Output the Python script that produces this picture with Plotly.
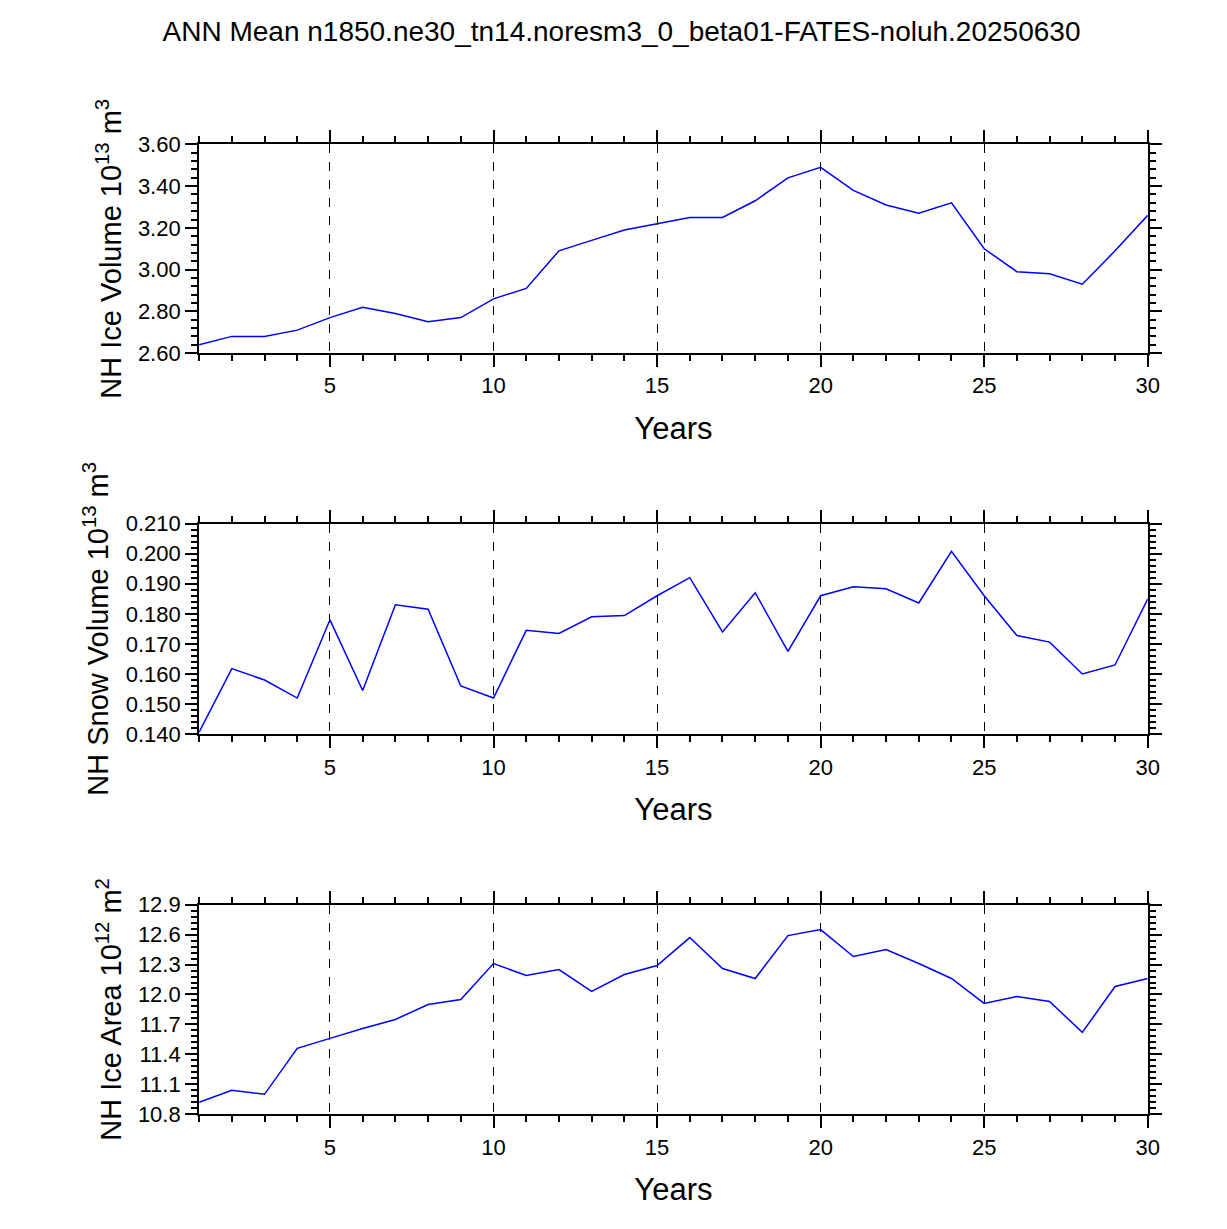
import plotly.graph_objects as go
from plotly.subplots import make_subplots

years = list(range(1, 31))
ice_volume = [2.64, 2.68, 2.68, 2.71, 2.77, 2.82, 2.79, 2.75, 2.77, 2.86,
              2.91, 3.09, 3.14, 3.19, 3.22, 3.25, 3.25, 3.33, 3.44, 3.49,
              3.38, 3.31, 3.27, 3.32, 3.10, 2.99, 2.98, 2.93, 3.09, 3.26]
snow_volume = [0.1407, 0.1618, 0.158, 0.152, 0.178, 0.1545, 0.183, 0.1815, 0.156, 0.152,
               0.1745, 0.1735, 0.179, 0.1794, 0.186, 0.192, 0.174, 0.187, 0.1675, 0.186,
               0.189, 0.1883, 0.1836, 0.2008, 0.186, 0.1728, 0.1706, 0.160, 0.163, 0.185]
ice_area = [10.92, 11.04, 11.00, 11.46, 11.56, 11.66, 11.75, 11.90, 11.95, 12.31,
            12.19, 12.25, 12.03, 12.20, 12.29, 12.57, 12.26, 12.16, 12.59, 12.65,
            12.38, 12.45, 12.31, 12.16, 11.91, 11.98, 11.93, 11.62, 12.08, 12.16]

W, H = 1227, 1229
series = [ice_volume, snow_volume, ice_area]
ytitles = ["NH Ice Volume 10<sup>13</sup> m<sup>3</sup>",
           "NH Snow Volume 10<sup>13</sup> m<sup>3</sup>",
           "NH Ice Area 10<sup>12</sup> m<sup>2</sup>"]
yranges = [[2.6, 3.6], [0.14, 0.21], [10.8, 12.9]]
ydtick = [0.2, 0.01, 0.3]
yminor = [0.04, 0.002, 0.06]
yfmt = [".2f", ".3f", ".1f"]
ypix = [(127, 340), (514, 729), (903, 1117)]

fig = make_subplots(rows=3, cols=1)
font = "Liberation Sans, Arial, sans-serif"
for i in range(3):
    r = i + 1
    fig.add_trace(go.Scatter(x=years, y=series[i], mode="lines",
                             line=dict(color="blue", width=1.5), showlegend=False), row=r, col=1)
    top, bot = ypix[i]
    fig.update_xaxes(row=r, col=1, domain=[193 / W, 1151 / W], range=[1, 30],
                     tickvals=[5, 10, 15, 20, 25, 30], ticks="outside", ticklen=12,
                     tickwidth=2, tickcolor="black", mirror="ticks", showline=True,
                     linecolor="black", linewidth=2, showgrid=True, gridcolor="black",
                     griddash="dash", gridwidth=1,
                     minor=dict(dtick=1, tick0=0, ticks="outside", ticklen=6, tickcolor="black", showgrid=False),
                     tickfont=dict(size=22, family=font, color="black"),
                     title=dict(text="Years", font=dict(size=31, family=font, color="black"), standoff=20))
    fig.update_yaxes(row=r, col=1, domain=[1 - bot / H, 1 - top / H], range=yranges[i],
                     dtick=ydtick[i], tick0=yranges[i][0], tickformat=yfmt[i],
                     ticks="outside", ticklen=12, tickwidth=2, tickcolor="black",
                     mirror="ticks", showline=True, linecolor="black", linewidth=2,
                     showgrid=False, zeroline=False,
                     minor=dict(dtick=yminor[i], tick0=yranges[i][0], ticks="outside", ticklen=6, tickcolor="black"),
                     tickfont=dict(size=22, family=font, color="black"),
                     title=dict(text=ytitles[i], font=dict(size=29, family=font, color="black"), standoff=8))

fig.update_layout(width=W, height=H, plot_bgcolor="white", paper_bgcolor="white",
                  margin=dict(l=0, r=0, t=0, b=0),
                  title=dict(text="ANN Mean n1850.ne30_tn14.noresm3_0_beta01-FATES-noluh.20250630",
                             x=0.5, xanchor="center", y=1 - 23 / H, yanchor="middle",
                             font=dict(size=28, family=font, color="black")))
fig.write_html("out.html")
